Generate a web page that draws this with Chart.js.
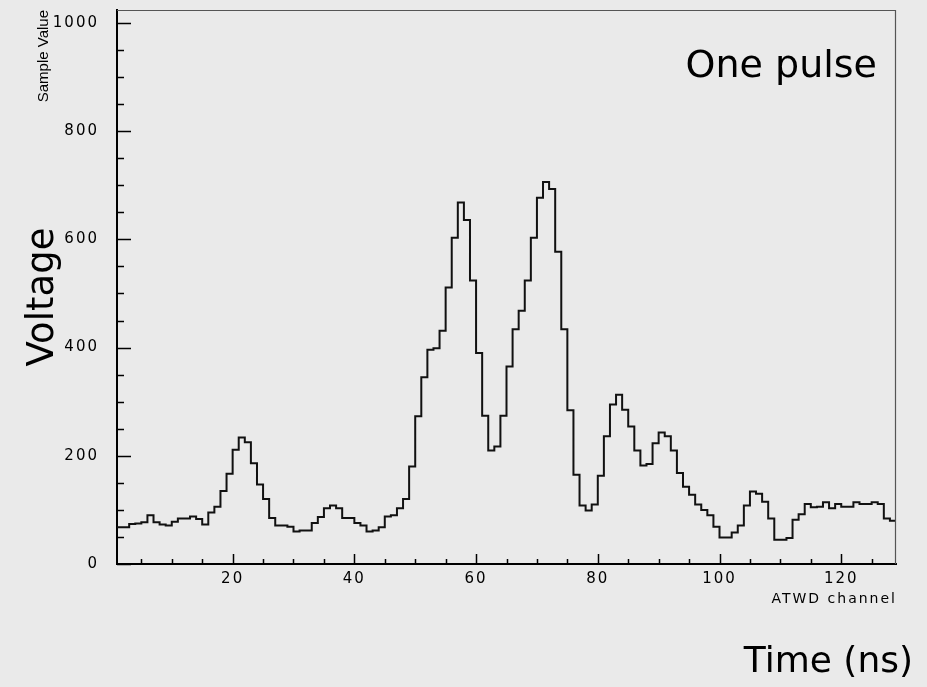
<!DOCTYPE html>
<html>
<head>
<meta charset="utf-8">
<title>One pulse</title>
<script src="https://cdn.jsdelivr.net/npm/chart.js@4.4.0/dist/chart.umd.min.js"></script>
<style>
  html, body { margin: 0; padding: 0; background: #eaeaea; }
  #wrap { width: 927px; height: 687px; }
</style>
</head>
<body>
<div id="wrap"><canvas id="pulseChart" width="927" height="687"></canvas></div>
<script>
// ATWD readout, one sample per channel (channels 1..128)
const channels = Array.from({ length: 128 }, (_, i) => i + 1);
const sampleValues = [
   68,  68,  74,  75,  77,  90,  77,  73,  71,  78,
   84,  84,  88,  83,  73,  95, 106, 135, 167, 211,
  234, 225, 186, 147, 120,  85,  71,  71,  69,  60,
   62,  62,  76,  87, 103, 108, 103,  85,  85,  76,
   71,  60,  62,  68,  88,  90, 103, 120, 180, 273,
  345, 396, 399, 431, 511, 603, 668, 636, 524, 390,
  274, 210, 217, 274, 365, 434, 468, 524, 603, 677,
  706, 693, 577, 434, 284, 165, 108,  99, 110, 163,
  236, 295, 313, 285, 254, 210, 182, 185, 223, 243,
  236, 210, 168, 143, 128, 110, 100,  90,  69,  49,
   49,  58,  71, 108, 134, 130, 115,  84,  45,  45,
   48,  82,  92, 111, 105, 106, 114, 103, 111, 106,
  106, 114, 111, 111, 114, 111,  84,  80
];

const xTickValues = [20, 40, 60, 80, 100, 120];
const yTickValues = [0, 200, 400, 600, 800, 1000];
const xMinorStep = 5;
const yMinorStep = 50;

// histogram steps: each bin spans [channel, channel + 1]
const points = channels.map((c, i) => ({ x: c, y: sampleValues[i] }));
points.push({ x: channels[channels.length - 1] + 1, y: sampleValues[sampleValues.length - 1] });

const handFont = '"Comic Sans MS", "DejaVu Sans", sans-serif';
const axisFont = '"DejaVu Sans", sans-serif';

// inward tick marks, frame and the free-standing labels
const frameAndLabels = {
  id: 'frameAndLabels',
  beforeDraw(chart) {
    chart.ctx.letterSpacing = '2px';
  },
  afterDraw(chart) {
    const { ctx, chartArea: a, scales: { x, y } } = chart;
    ctx.save();
    ctx.letterSpacing = '0px';

    // top and right edges of the frame
    ctx.strokeStyle = '#555';
    ctx.lineWidth = 1.2;
    ctx.beginPath();
    ctx.moveTo(a.left, a.top + 0.5);
    ctx.lineTo(a.right - 0.5, a.top + 0.5);
    ctx.lineTo(a.right - 0.5, a.bottom);
    ctx.stroke();

    ctx.strokeStyle = '#000';
    ctx.lineWidth = 1.5;
    ctx.beginPath();
    for (let v = Math.ceil(x.min / xMinorStep) * xMinorStep; v <= x.max; v += xMinorStep) {
      const px = Math.round(x.getPixelForValue(v)) + 0.5;
      const len = xTickValues.includes(v) ? 10 : 5;
      ctx.moveTo(px, a.bottom);
      ctx.lineTo(px, a.bottom - len);
    }
    for (let v = 0; v <= y.max; v += yMinorStep) {
      const py = Math.round(y.getPixelForValue(v)) + 0.5;
      const len = yTickValues.includes(v) ? 14 : 7;
      ctx.moveTo(a.left, py);
      ctx.lineTo(a.left + len, py);
    }
    ctx.stroke();

    ctx.fillStyle = '#000';
    ctx.textBaseline = 'alphabetic';

    ctx.font = '38px ' + handFont;
    ctx.textAlign = 'right';
    ctx.fillText('One pulse', 877, 77);

    ctx.font = '36px ' + handFont;
    ctx.fillText('Time (ns)', 913, 672);

    ctx.save();
    ctx.letterSpacing = '2px';
    ctx.font = '14px ' + axisFont;
    ctx.fillText('ATWD channel', 897, 603);
    ctx.restore();

    ctx.save();
    ctx.translate(53, 297);
    ctx.rotate(-Math.PI / 2);
    ctx.font = '37px ' + handFont;
    ctx.textAlign = 'center';
    ctx.fillText('Voltage', 0, 0);
    ctx.restore();

    ctx.save();
    ctx.translate(48, a.top);
    ctx.rotate(-Math.PI / 2);
    ctx.font = '15px "Liberation Sans", sans-serif';
    ctx.textAlign = 'right';
    ctx.fillText('Sample Value', 0, 0);
    ctx.restore();

    ctx.restore();
  }
};

new Chart(document.getElementById('pulseChart').getContext('2d'), {
  type: 'line',
  data: {
    datasets: [{
      data: points,
      stepped: 'before',
      borderColor: '#111',
      borderWidth: 2,
      pointRadius: 0,
      fill: false
    }]
  },
  options: {
    responsive: false,
    animation: false,
    layout: { padding: { top: 10, right: 31, left: 0, bottom: 0 } },
    plugins: {
      legend: { display: false },
      tooltip: { enabled: false }
    },
    scales: {
      x: {
        type: 'linear',
        min: 1,
        max: 129,
        afterBuildTicks: s => { s.ticks = xTickValues.map(v => ({ value: v })); },
        afterFit: s => { s.height = 123; s.paddingLeft = 0; s.paddingRight = 0; },
        grid: { display: false, drawTicks: false },
        border: { display: true, color: '#000', width: 2 },
        ticks: {
          color: '#000',
          font: { family: axisFont, size: 15 },
          padding: 6,
          maxRotation: 0,
          autoSkip: false,
          callback: v => String(v)
        }
      },
      y: {
        min: 0,
        max: 1024,
        afterBuildTicks: s => { s.ticks = yTickValues.map(v => ({ value: v })); },
        afterFit: s => { s.width = 117; s.paddingTop = 0; s.paddingBottom = 0; },
        grid: { display: false, drawTicks: false },
        border: { display: true, color: '#000', width: 2 },
        ticks: {
          color: '#000',
          font: { family: axisFont, size: 15 },
          padding: 18,
          autoSkip: false,
          callback: v => String(v)
        }
      }
    }
  },
  plugins: [frameAndLabels]
});
</script>
</body>
</html>
